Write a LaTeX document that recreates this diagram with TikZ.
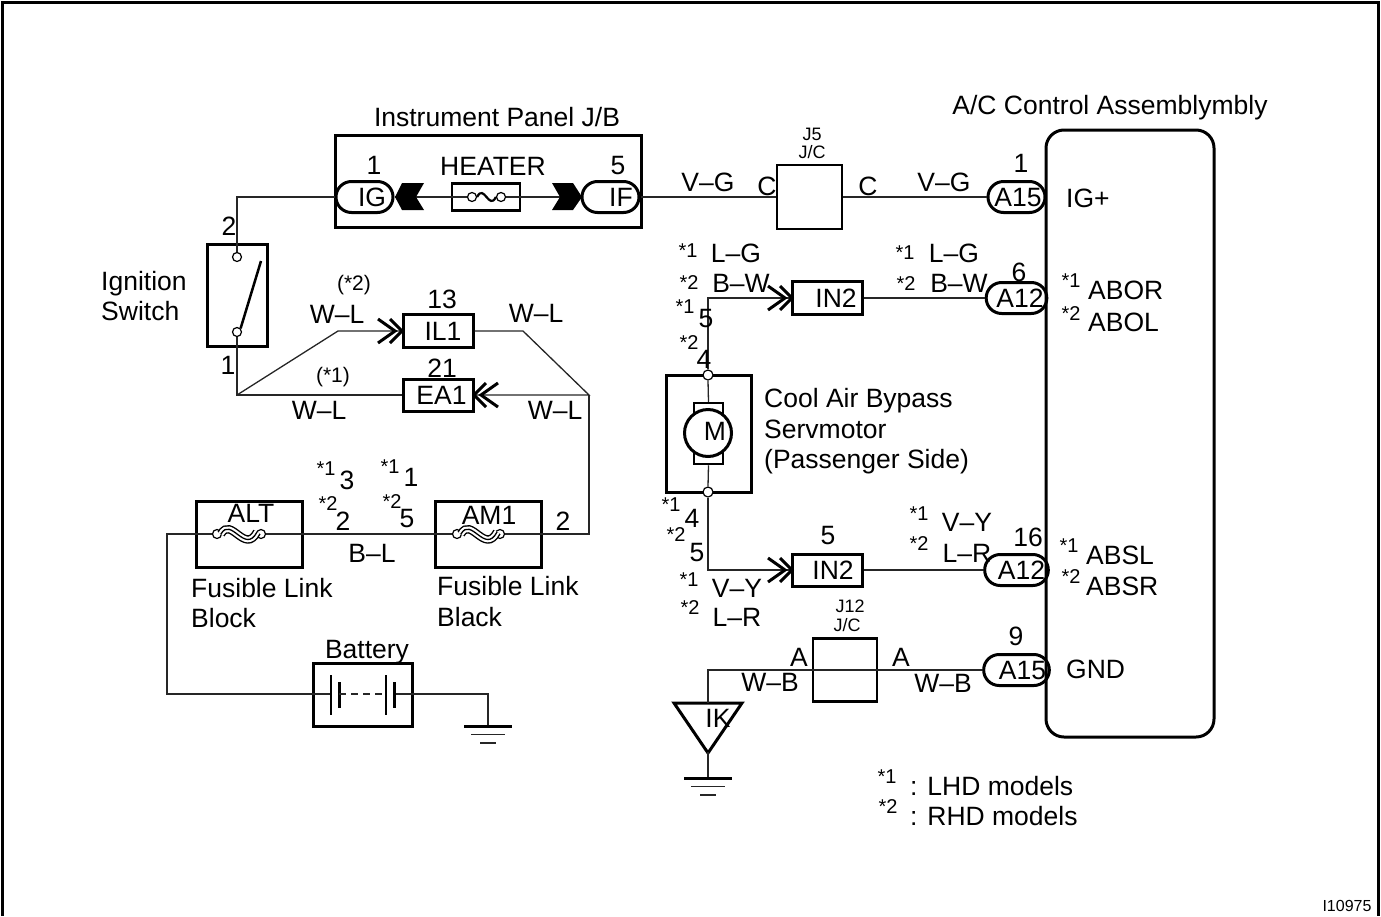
\documentclass[tikz,border=0pt]{standalone}
\usepackage{fontspec}
\setmainfont{Liberation Sans}
\usetikzlibrary{shapes.misc,shapes.geometric}
\newcounter{tn}
\newcommand\TT[4][]{\stepcounter{tn}\node[txt,#1] (t\arabic{tn}) at (#2,#3) {#4};}
\newcommand\ST[3]{\stepcounter{tn}\node[stxt] (t\arabic{tn}) at (#1,#2) {#3};}
\newcommand\MT[3]{\stepcounter{tn}\node[stxt,font=\fontsize{21}{23}\selectfont,text height=15pt] (t\arabic{tn}) at (#1,#2) {#3};}
\newcommand\JT[3]{\stepcounter{tn}\node[stxt,font=\fontsize{18}{20}\selectfont,text height=13pt] (t\arabic{tn}) at (#1,#2) {#3};}
\newcommand\LT[3]{\stepcounter{tn}\node[txt,anchor=base west,text height=0pt] (t\arabic{tn}) at (#1,#2+9.5) {#3};}
\newcommand\ChevR[2]{\draw[chev] (#1-24,#2-12)--(#1-7,#2)--(#1-24,#2+12);\draw[chev] (#1-12,#2-12)--(#1,#2)--(#1-12,#2+12);}
\newcommand\ChevL[2]{\draw[chev] (#1+24,#2-12)--(#1+7,#2)--(#1+24,#2+12);\draw[chev] (#1+12,#2-12)--(#1,#2)--(#1+12,#2+12);}
\newcommand\Ground[2]{\draw[box] (#1-24,#2)--(#1+24,#2);\draw[wire] (#1-17,#2+8.5)--(#1+17,#2+8.5);\draw[wire] (#1-8,#2+17)--(#1+8,#2+17);}
\newcommand\LinkWave[2]{%
 \foreach \w/\c in {8.4/black,5.6/white,1.3/black}{\draw[line width=\w pt,color=\c] (#1+4,#2+0) .. controls (#1+14,#2-18) and (#1+28,#2+21) .. (#1+40,#2-2);}}
\tikzset{x=1pt,y=-1pt,
 txt/.style={inner sep=0pt,font=\fontsize{26.5}{28}\selectfont,text height=19pt,text depth=0pt},
 stxt/.style={inner sep=0pt,font=\fontsize{20}{22}\selectfont,text height=14pt,text depth=0pt},
 wire/.style={line width=1.3pt,color=black!85},
 box/.style={draw=black,line width=3pt},
 chev/.style={line width=3pt,color=black,line join=miter},
 rbox/.style={box,inner sep=0pt,font=\fontsize{26.5}{28}\selectfont,text height=19pt,text depth=0pt},
 pill/.style={rounded rectangle,box,inner sep=0pt,minimum width=57pt,minimum height=31pt,font=\fontsize{26.5}{28}\selectfont,text height=19pt,text depth=0pt},
 term/.style={circle,draw=black,line width=1.2pt,fill=white,inner sep=0pt,minimum size=9pt},
 }
\begin{document}
\begin{tikzpicture}
\useasboundingbox (0,0) rectangle (1381,916);
\draw[line width=3pt] (2,916)--(2,2)--(1378,2)--(1378,916);
% boxes
\node[rbox,minimum width=306pt,minimum height=92pt] (ipjb) at (488,181) {};
\node[pill] (ig) at (364.5,197) {\hspace*{15pt}IG};
\node[pill] (if) at (610.5,197) {\hspace*{21pt}IF};
\node[rbox,line width=2.5pt,minimum width=68pt,minimum height=27pt] (fuse) at (486,197) {};
\node[term] (fa) at (472,197) {};
\node[term] (fb) at (501,197) {};
\node[rbox,minimum width=60pt,minimum height=102pt] (sw) at (237,295) {};
\node[term] (sa) at (237,257) {};
\node[term] (sb) at (237,332) {};
\node[rbox,minimum width=70pt,minimum height=33pt] (il1) at (438,331) {\hspace*{10pt}IL1};
\node[rbox,minimum width=70pt,minimum height=32pt] (ea1) at (438,395) {\hspace*{7pt}EA1};
\node[rbox,minimum width=106pt,minimum height=66pt] (alt) at (249,534) {};
\node[rbox,minimum width=106pt,minimum height=66pt] (am1) at (488,534) {};
\node[term] (alta) at (217,534) {};
\node[term] (altb) at (261,534) {};
\node[term] (ama) at (457,534) {};
\node[term] (amb) at (500,534) {};
\node[rbox,minimum width=99pt,minimum height=63pt] (bat) at (362.5,694.5) {};
\node[rbox,minimum width=85pt,minimum height=117pt] (mot) at (708.5,433.5) {};
\node[rbox,line width=2.5pt,minimum width=29pt,minimum height=61pt] (brush) at (708.5,433.5) {};
\node[circle,box,fill=white,inner sep=0pt,minimum size=47pt] (mc) at (708,433) {};
\node[term,minimum size=10pt] (mta) at (708,375) {};
\node[term,minimum size=10pt] (mtb) at (708,492) {};
\node[rbox,minimum width=70pt,minimum height=33pt] (in2a) at (827,298) {\hspace*{18pt}IN2};
\node[rbox,minimum width=70pt,minimum height=32pt] (in2b) at (827,570) {\hspace*{12pt}IN2};
\node[rbox,line width=2.5pt,minimum width=65pt,minimum height=64pt] (jfive) at (809.5,197) {};
\node[rbox,line width=2.5pt,minimum width=64pt,minimum height=63pt] (jtw) at (845,670) {};
\node[rbox,rounded corners=18pt,minimum width=168pt,minimum height=607pt] (ac) at (1130,433.5) {};
\node[pill] (p1) at (1016.5,197) {\hspace*{3pt}A15};
\node[pill] (p2) at (1016.5,298) {\hspace*{7pt}A12};
\node[pill] (p3) at (1016.5,570) {\hspace*{10pt}A12};
\node[pill] (p4) at (1016.5,670) {\hspace*{12pt}A15};
\node[isosceles triangle,shape border rotate=-90,isosceles triangle apex angle=50,isosceles triangle stretches,box,inner sep=0pt,minimum width=68pt,minimum height=50pt] (ik) at (708,721) {};
\coordinate (g1) at (488,726);
\coordinate (g2) at (708,778);
% wires
\draw[wire] (ig.west) -- (237,197) -- (sa.north);
\draw[wire] (ig.east) -- (fa.west);
\draw[wire] (fb.east) -- (if.west);
\draw[wire] (if.east) -- (jfive.west);
\draw[wire] (jfive.east) -- (p1.west);
\draw[wire] (sb.south) -- (237,395) -- (ea1.west);
\draw[wire] (237,395) -- (338,331) -- (il1.west);
\draw[wire] (il1.east) -- (523,331) -- (589,395) -- (ea1.east);
\draw[wire] (589,395) -- (589,534) -- (amb.east);
\draw[wire] (altb.east) -- (ama.west);
\draw[wire] (alta.west) -- (167,534) -- (167,694) -- (331,694);
\draw[wire] (394,694) -- (488,694) -- (g1);
\draw[wire] (mta.north) -- (708,298) -- (in2a.west);
\draw[wire] (in2a.east) -- (p2.west);
\draw[wire] (mta.south) -- (brush.north);
\draw[wire] (brush.south) -- (mtb.north);
\draw[wire] (mtb.south) -- (708,570) -- (in2b.west);
\draw[wire] (in2b.east) -- (p3.west);
\draw[wire] (p4.west) -- (708,670) -- (708,703);
\draw[wire] (708,752) -- (g2);
% details
\draw[line width=2.5pt] (sb.north east) -- (261,261);
\draw[line width=2.2pt] (fa.east) .. controls (484,183) and (489,211) .. (fb.west);
\fill (395,197) -- (402,183) -- (424,183) -- (416,197) -- (424,210) -- (402,210) -- cycle;
\fill (552,183) -- (573,183) -- (582,197) -- (573,210) -- (552,210) -- (560,197) -- cycle;
\ChevR{402}{331}
\ChevL{474}{395}
\ChevR{792}{298}
\ChevR{792}{570}
\LinkWave{217}{534}
\LinkWave{457}{534}
\draw[line width=1.1pt] (331,675)--(331,715);
\draw[line width=3pt] (339,682)--(339,708);
\draw[wire,dash pattern=on 7pt off 5pt] (339,694)--(386,694);
\draw[line width=1.1pt] (386,675)--(386,715);
\draw[line width=3pt] (394,682)--(394,708);
\Ground{488}{726}
\Ground{708}{778}
% labels
\TT{497}{117}{Instrument Panel J/B}
\TT{1110}{105}{A/C Control Assemblymbly}
\TT{374}{165}{1}\TT{493}{166}{HEATER}\TT{618}{165}{5}
\TT{708}{182}{V–G}\TT{767}{186}{C}\TT{868}{186}{C}\TT{944}{182}{V–G}
\JT{812}{134}{J5}\JT{812}{152}{J/C}
\TT{1021}{163}{1}\LT{1066}{198}{IG+}
\ST{688}{250}{*1}\TT{736}{253}{L–G}\ST{689}{282}{*2}\TT{741}{283}{B–W}
\ST{685}{306}{*1}\TT{706}{318}{5}\ST{689}{342}{*2}\TT{704}{359}{4}
\ST{905}{252}{*1}\TT{954}{253}{L–G}\ST{906}{283}{*2}\TT{959}{283}{B–W}
\TT{1019}{272}{6}
\LT{1088}{290}{ABOR}\LT{1088}{322}{ABOL}
\ST{1071}{280}{*1}\ST{1071}{313}{*2}
\LT{101}{281}{Ignition}\LT{101}{311}{Switch}
\TT{229}{226}{2}\TT{228}{365}{1}
\MT{354}{283}{(*2)}
\TT{337}{314}{W–L}\TT{442}{299}{13}\TT{536}{313}{W–L}\TT{442}{368}{21}
\MT{333}{375}{(*1)}
\TT{319}{410}{W–L}\TT{555}{410}{W–L}
\ST{326}{468}{*1}\TT{347}{480}{3}\ST{390}{466}{*1}\TT{411}{477}{1}
\ST{328}{503}{*2}\TT{343}{521}{2}\ST{392}{501}{*2}\TT{407}{518}{5}
\TT{251}{513}{ALT}\TT{489}{515}{AM1}\TT{372}{553}{B–L}\TT{563}{521}{2}
\LT{191}{588}{Fusible Link}\LT{191}{618}{Block}
\LT{437}{586}{Fusible Link}\LT{437}{617}{Black}
\TT{367}{649}{Battery}
\LT{764}{398}{Cool Air Bypass}\LT{764}{429}{Servmotor}\LT{764}{459}{(Passenger Side)}
\TT{715}{431}{M}
\ST{671}{504}{*1}\TT{692}{518}{4}\ST{676}{534}{*2}\TT{697}{552}{5}
\ST{689}{579}{*1}\TT{737}{588}{V–Y}\ST{690}{607}{*2}\TT{737}{617}{L–R}
\TT{828}{535}{5}
\ST{919}{513}{*1}\TT{967}{522}{V–Y}\ST{919}{543}{*2}\TT{967}{553}{L–R}
\TT{1028}{537}{16}
\JT{850}{606}{J12}\JT{847}{625}{J/C}
\TT{799}{657}{A}\TT{901}{657}{A}\TT{770}{682}{W–B}\TT{943}{683}{W–B}
\TT{1016}{636}{9}\TT{718}{718}{IK}
\ST{1069}{545}{*1}\ST{1071}{576}{*2}\LT{1086}{555}{ABSL}\LT{1086}{586}{ABSR}
\LT{1066}{669}{GND}
\ST{887}{776}{*1}\ST{888}{806}{*2}
\LT{910}{786}{: LHD models}\LT{910}{816}{: RHD models}
\stepcounter{tn}\node[stxt,font=\fontsize{16}{18}\selectfont,text height=11pt] (t\arabic{tn}) at (1347,906) {I10975};
\end{tikzpicture}
\end{document}
